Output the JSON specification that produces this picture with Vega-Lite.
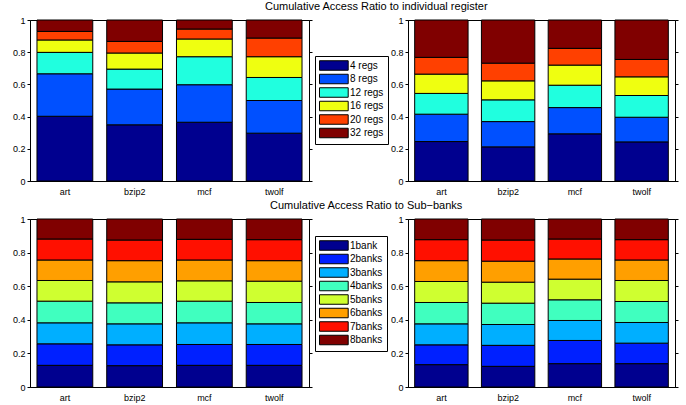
{
  "$schema": "https://vega.github.io/schema/vega-lite/v6.json",
  "background": "white",
  "padding": {"left": 11, "top": 0, "right": 5, "bottom": 5},
  "config": {
    "font": "Liberation Sans",
    "view": {"stroke": "black", "strokeWidth": 1},
    "axis": {"domainColor": "black", "tickColor": "black", "labelColor": "black", "labelFontSize": 9, "tickSize": 3, "grid": false, "labelPadding": 2, "title": null},
    "axisX": {"labelPadding": 6},
    "title": {"fontSize": 11, "fontWeight": "normal", "color": "black", "anchor": "start", "frame": "group", "offset": 4},
    "legend": {"orient": "none", "title": null, "symbolSize": 100, "symbolType": "M-1,-0.95H4.74V0.95H-1Z", "labelOffset": 20, "padding": 4, "strokeColor": "black", "fillColor": "white", "labelFontSize": 10, "labelColor": "black", "symbolStrokeColor": "black", "symbolStrokeWidth": 1, "symbolOpacity": 1}
  },
  "datasets": {
    "regs": [
      {"p":"L","b":"art","s":"4 regs","k":1,"v":0.402},{"p":"L","b":"art","s":"8 regs","k":2,"v":0.264},{"p":"L","b":"art","s":"12 regs","k":3,"v":0.133},{"p":"L","b":"art","s":"16 regs","k":4,"v":0.077},{"p":"L","b":"art","s":"20 regs","k":5,"v":0.053},{"p":"L","b":"art","s":"32 regs","k":6,"v":0.071},
      {"p":"L","b":"bzip2","s":"4 regs","k":1,"v":0.349},{"p":"L","b":"bzip2","s":"8 regs","k":2,"v":0.222},{"p":"L","b":"bzip2","s":"12 regs","k":3,"v":0.124},{"p":"L","b":"bzip2","s":"16 regs","k":4,"v":0.100},{"p":"L","b":"bzip2","s":"20 regs","k":5,"v":0.072},{"p":"L","b":"bzip2","s":"32 regs","k":6,"v":0.133},
      {"p":"L","b":"mcf","s":"4 regs","k":1,"v":0.365},{"p":"L","b":"mcf","s":"8 regs","k":2,"v":0.233},{"p":"L","b":"mcf","s":"12 regs","k":3,"v":0.174},{"p":"L","b":"mcf","s":"16 regs","k":4,"v":0.110},{"p":"L","b":"mcf","s":"20 regs","k":5,"v":0.062},{"p":"L","b":"mcf","s":"32 regs","k":6,"v":0.056},
      {"p":"L","b":"twolf","s":"4 regs","k":1,"v":0.297},{"p":"L","b":"twolf","s":"8 regs","k":2,"v":0.203},{"p":"L","b":"twolf","s":"12 regs","k":3,"v":0.143},{"p":"L","b":"twolf","s":"16 regs","k":4,"v":0.129},{"p":"L","b":"twolf","s":"20 regs","k":5,"v":0.116},{"p":"L","b":"twolf","s":"32 regs","k":6,"v":0.112},
      {"p":"R","b":"art","s":"4 regs","k":1,"v":0.245},{"p":"R","b":"art","s":"8 regs","k":2,"v":0.170},{"p":"R","b":"art","s":"12 regs","k":3,"v":0.129},{"p":"R","b":"art","s":"16 regs","k":4,"v":0.120},{"p":"R","b":"art","s":"20 regs","k":5,"v":0.104},{"p":"R","b":"art","s":"32 regs","k":6,"v":0.232},
      {"p":"R","b":"bzip2","s":"4 regs","k":1,"v":0.212},{"p":"R","b":"bzip2","s":"8 regs","k":2,"v":0.157},{"p":"R","b":"bzip2","s":"12 regs","k":3,"v":0.135},{"p":"R","b":"bzip2","s":"16 regs","k":4,"v":0.118},{"p":"R","b":"bzip2","s":"20 regs","k":5,"v":0.110},{"p":"R","b":"bzip2","s":"32 regs","k":6,"v":0.268},
      {"p":"R","b":"mcf","s":"4 regs","k":1,"v":0.293},{"p":"R","b":"mcf","s":"8 regs","k":2,"v":0.163},{"p":"R","b":"mcf","s":"12 regs","k":3,"v":0.139},{"p":"R","b":"mcf","s":"16 regs","k":4,"v":0.125},{"p":"R","b":"mcf","s":"20 regs","k":5,"v":0.104},{"p":"R","b":"mcf","s":"32 regs","k":6,"v":0.176},
      {"p":"R","b":"twolf","s":"4 regs","k":1,"v":0.243},{"p":"R","b":"twolf","s":"8 regs","k":2,"v":0.153},{"p":"R","b":"twolf","s":"12 regs","k":3,"v":0.135},{"p":"R","b":"twolf","s":"16 regs","k":4,"v":0.116},{"p":"R","b":"twolf","s":"20 regs","k":5,"v":0.108},{"p":"R","b":"twolf","s":"32 regs","k":6,"v":0.245}
    ],
    "banks": [
      {"p":"L","b":"art","s":"1bank","k":1,"v":0.129},{"p":"L","b":"art","s":"2banks","k":2,"v":0.128},{"p":"L","b":"art","s":"3banks","k":3,"v":0.125},{"p":"L","b":"art","s":"4banks","k":4,"v":0.129},{"p":"L","b":"art","s":"5banks","k":5,"v":0.123},{"p":"L","b":"art","s":"6banks","k":6,"v":0.122},{"p":"L","b":"art","s":"7banks","k":7,"v":0.125},{"p":"L","b":"art","s":"8banks","k":8,"v":0.119},
      {"p":"L","b":"bzip2","s":"1bank","k":1,"v":0.127},{"p":"L","b":"bzip2","s":"2banks","k":2,"v":0.124},{"p":"L","b":"bzip2","s":"3banks","k":3,"v":0.125},{"p":"L","b":"bzip2","s":"4banks","k":4,"v":0.125},{"p":"L","b":"bzip2","s":"5banks","k":5,"v":0.125},{"p":"L","b":"bzip2","s":"6banks","k":6,"v":0.126},{"p":"L","b":"bzip2","s":"7banks","k":7,"v":0.123},{"p":"L","b":"bzip2","s":"8banks","k":8,"v":0.125},
      {"p":"L","b":"mcf","s":"1bank","k":1,"v":0.129},{"p":"L","b":"mcf","s":"2banks","k":2,"v":0.124},{"p":"L","b":"mcf","s":"3banks","k":3,"v":0.129},{"p":"L","b":"mcf","s":"4banks","k":4,"v":0.129},{"p":"L","b":"mcf","s":"5banks","k":5,"v":0.121},{"p":"L","b":"mcf","s":"6banks","k":6,"v":0.124},{"p":"L","b":"mcf","s":"7banks","k":7,"v":0.123},{"p":"L","b":"mcf","s":"8banks","k":8,"v":0.121},
      {"p":"L","b":"twolf","s":"1bank","k":1,"v":0.129},{"p":"L","b":"twolf","s":"2banks","k":2,"v":0.124},{"p":"L","b":"twolf","s":"3banks","k":3,"v":0.123},{"p":"L","b":"twolf","s":"4banks","k":4,"v":0.127},{"p":"L","b":"twolf","s":"5banks","k":5,"v":0.127},{"p":"L","b":"twolf","s":"6banks","k":6,"v":0.122},{"p":"L","b":"twolf","s":"7banks","k":7,"v":0.125},{"p":"L","b":"twolf","s":"8banks","k":8,"v":0.123},
      {"p":"R","b":"art","s":"1bank","k":1,"v":0.133},{"p":"R","b":"art","s":"2banks","k":2,"v":0.118},{"p":"R","b":"art","s":"3banks","k":3,"v":0.125},{"p":"R","b":"art","s":"4banks","k":4,"v":0.127},{"p":"R","b":"art","s":"5banks","k":5,"v":0.125},{"p":"R","b":"art","s":"6banks","k":6,"v":0.124},{"p":"R","b":"art","s":"7banks","k":7,"v":0.125},{"p":"R","b":"art","s":"8banks","k":8,"v":0.123},
      {"p":"R","b":"bzip2","s":"1bank","k":1,"v":0.123},{"p":"R","b":"bzip2","s":"2banks","k":2,"v":0.125},{"p":"R","b":"bzip2","s":"3banks","k":3,"v":0.124},{"p":"R","b":"bzip2","s":"4banks","k":4,"v":0.127},{"p":"R","b":"bzip2","s":"5banks","k":5,"v":0.125},{"p":"R","b":"bzip2","s":"6banks","k":6,"v":0.125},{"p":"R","b":"bzip2","s":"7banks","k":7,"v":0.126},{"p":"R","b":"bzip2","s":"8banks","k":8,"v":0.125},
      {"p":"R","b":"mcf","s":"1bank","k":1,"v":0.139},{"p":"R","b":"mcf","s":"2banks","k":2,"v":0.138},{"p":"R","b":"mcf","s":"3banks","k":3,"v":0.119},{"p":"R","b":"mcf","s":"4banks","k":4,"v":0.123},{"p":"R","b":"mcf","s":"5banks","k":5,"v":0.123},{"p":"R","b":"mcf","s":"6banks","k":6,"v":0.120},{"p":"R","b":"mcf","s":"7banks","k":7,"v":0.119},{"p":"R","b":"mcf","s":"8banks","k":8,"v":0.119},
      {"p":"R","b":"twolf","s":"1bank","k":1,"v":0.139},{"p":"R","b":"twolf","s":"2banks","k":2,"v":0.122},{"p":"R","b":"twolf","s":"3banks","k":3,"v":0.123},{"p":"R","b":"twolf","s":"4banks","k":4,"v":0.125},{"p":"R","b":"twolf","s":"5banks","k":5,"v":0.125},{"p":"R","b":"twolf","s":"6banks","k":6,"v":0.122},{"p":"R","b":"twolf","s":"7banks","k":7,"v":0.121},{"p":"R","b":"twolf","s":"8banks","k":8,"v":0.123}
    ]
  },
  "columns": 2,
  "bounds": "flush",
  "spacing": {"column": 99, "row": 38},
  "resolve": {"scale": {"color": "independent"}, "legend": {"color": "independent"}},
  "concat": [
    {
      "width": 279, "height": 161,
      "title": {"text": "Cumulative Access Ratio to individual register", "dx": 235},
      "data": {"name": "regs"},
      "transform": [{"filter": "datum.p === 'L'"}],
      "encoding": {
        "x": {"field": "b", "type": "nominal", "sort": null, "scale": {"paddingInner": 0.2, "paddingOuter": 0.1}, "axis": {"labelAngle": 0, "ticks": false}},
        "order": {"field": "k", "type": "quantitative"}
      },
      "layer": [
        {"mark": {"type": "bar", "stroke": "black", "strokeWidth": 1},
         "encoding": {
           "y": {"field": "v", "type": "quantitative", "stack": "zero", "scale": {"domain": [0, 1], "nice": false}, "axis": {"values": [0, 0.2, 0.4, 0.6, 0.8, 1], "format": "~g"}},
           "color": {"field": "s", "type": "nominal", "scale": {"domain": ["4 regs","8 regs","12 regs","16 regs","20 regs","32 regs"], "range": ["#00008F","#0050FF","#20FFDF","#EFFF10","#FF4000","#800000"]}, "legend": {"legendX": 285, "legendY": 36, "rowPadding": -1.5, "padding": 4}}
         }},
        {"mark": {"type": "bar", "opacity": 0},
         "encoding": {
           "y": {"field": "v", "type": "quantitative", "stack": "zero", "scale": {"domain": [0, 1], "nice": false}, "axis": {"orient": "right", "values": [0, 0.2, 0.4, 0.6, 0.8, 1], "labels": false}}
         }}
      ],
      "resolve": {"scale": {"y": "independent"}}
    },
    {
      "width": 267, "height": 161,
      "data": {"name": "regs"},
      "transform": [{"filter": "datum.p === 'R'"}],
      "encoding": {
        "x": {"field": "b", "type": "nominal", "sort": null, "scale": {"paddingInner": 0.2, "paddingOuter": 0.1}, "axis": {"labelAngle": 0, "ticks": false}},
        "order": {"field": "k", "type": "quantitative"}
      },
      "layer": [
        {"mark": {"type": "bar", "stroke": "black", "strokeWidth": 1},
         "encoding": {
           "y": {"field": "v", "type": "quantitative", "stack": "zero", "scale": {"domain": [0, 1], "nice": false}, "axis": {"values": [0, 0.2, 0.4, 0.6, 0.8, 1], "format": "~g"}},
           "color": {"field": "s", "type": "nominal", "scale": {"domain": ["4 regs","8 regs","12 regs","16 regs","20 regs","32 regs"], "range": ["#00008F","#0050FF","#20FFDF","#EFFF10","#FF4000","#800000"]}, "legend": null}
         }},
        {"mark": {"type": "bar", "opacity": 0},
         "encoding": {
           "y": {"field": "v", "type": "quantitative", "stack": "zero", "scale": {"domain": [0, 1], "nice": false}, "axis": {"orient": "right", "values": [0, 0.2, 0.4, 0.6, 0.8, 1], "labels": false}}
         }}
      ],
      "resolve": {"scale": {"y": "independent"}}
    },
    {
      "width": 279, "height": 168,
      "title": {"text": "Cumulative Access Ratio to Sub−banks", "dx": 240},
      "data": {"name": "banks"},
      "transform": [{"filter": "datum.p === 'L'"}],
      "encoding": {
        "x": {"field": "b", "type": "nominal", "sort": null, "scale": {"paddingInner": 0.2, "paddingOuter": 0.1}, "axis": {"labelAngle": 0, "ticks": false}},
        "order": {"field": "k", "type": "quantitative"}
      },
      "layer": [
        {"mark": {"type": "bar", "stroke": "black", "strokeWidth": 1},
         "encoding": {
           "y": {"field": "v", "type": "quantitative", "stack": "zero", "scale": {"domain": [0, 1], "nice": false}, "axis": {"values": [0, 0.2, 0.4, 0.6, 0.8, 1], "format": "~g"}},
           "color": {"field": "s", "type": "nominal", "scale": {"domain": ["1bank","2banks","3banks","4banks","5banks","6banks","7banks","8banks"], "range": ["#00008F","#0020FF","#00AFFF","#40FFBF","#CFFF30","#FF9F00","#FF1000","#800000"]}, "legend": {"legendX": 285, "legendY": 17, "rowPadding": -1.5, "padding": 4}}
         }},
        {"mark": {"type": "bar", "opacity": 0},
         "encoding": {
           "y": {"field": "v", "type": "quantitative", "stack": "zero", "scale": {"domain": [0, 1], "nice": false}, "axis": {"orient": "right", "values": [0, 0.2, 0.4, 0.6, 0.8, 1], "labels": false}}
         }}
      ],
      "resolve": {"scale": {"y": "independent"}}
    },
    {
      "width": 267, "height": 168,
      "data": {"name": "banks"},
      "transform": [{"filter": "datum.p === 'R'"}],
      "encoding": {
        "x": {"field": "b", "type": "nominal", "sort": null, "scale": {"paddingInner": 0.2, "paddingOuter": 0.1}, "axis": {"labelAngle": 0, "ticks": false}},
        "order": {"field": "k", "type": "quantitative"}
      },
      "layer": [
        {"mark": {"type": "bar", "stroke": "black", "strokeWidth": 1},
         "encoding": {
           "y": {"field": "v", "type": "quantitative", "stack": "zero", "scale": {"domain": [0, 1], "nice": false}, "axis": {"values": [0, 0.2, 0.4, 0.6, 0.8, 1], "format": "~g"}},
           "color": {"field": "s", "type": "nominal", "scale": {"domain": ["1bank","2banks","3banks","4banks","5banks","6banks","7banks","8banks"], "range": ["#00008F","#0020FF","#00AFFF","#40FFBF","#CFFF30","#FF9F00","#FF1000","#800000"]}, "legend": null}
         }},
        {"mark": {"type": "bar", "opacity": 0},
         "encoding": {
           "y": {"field": "v", "type": "quantitative", "stack": "zero", "scale": {"domain": [0, 1], "nice": false}, "axis": {"orient": "right", "values": [0, 0.2, 0.4, 0.6, 0.8, 1], "labels": false}}
         }}
      ],
      "resolve": {"scale": {"y": "independent"}}
    }
  ]
}
